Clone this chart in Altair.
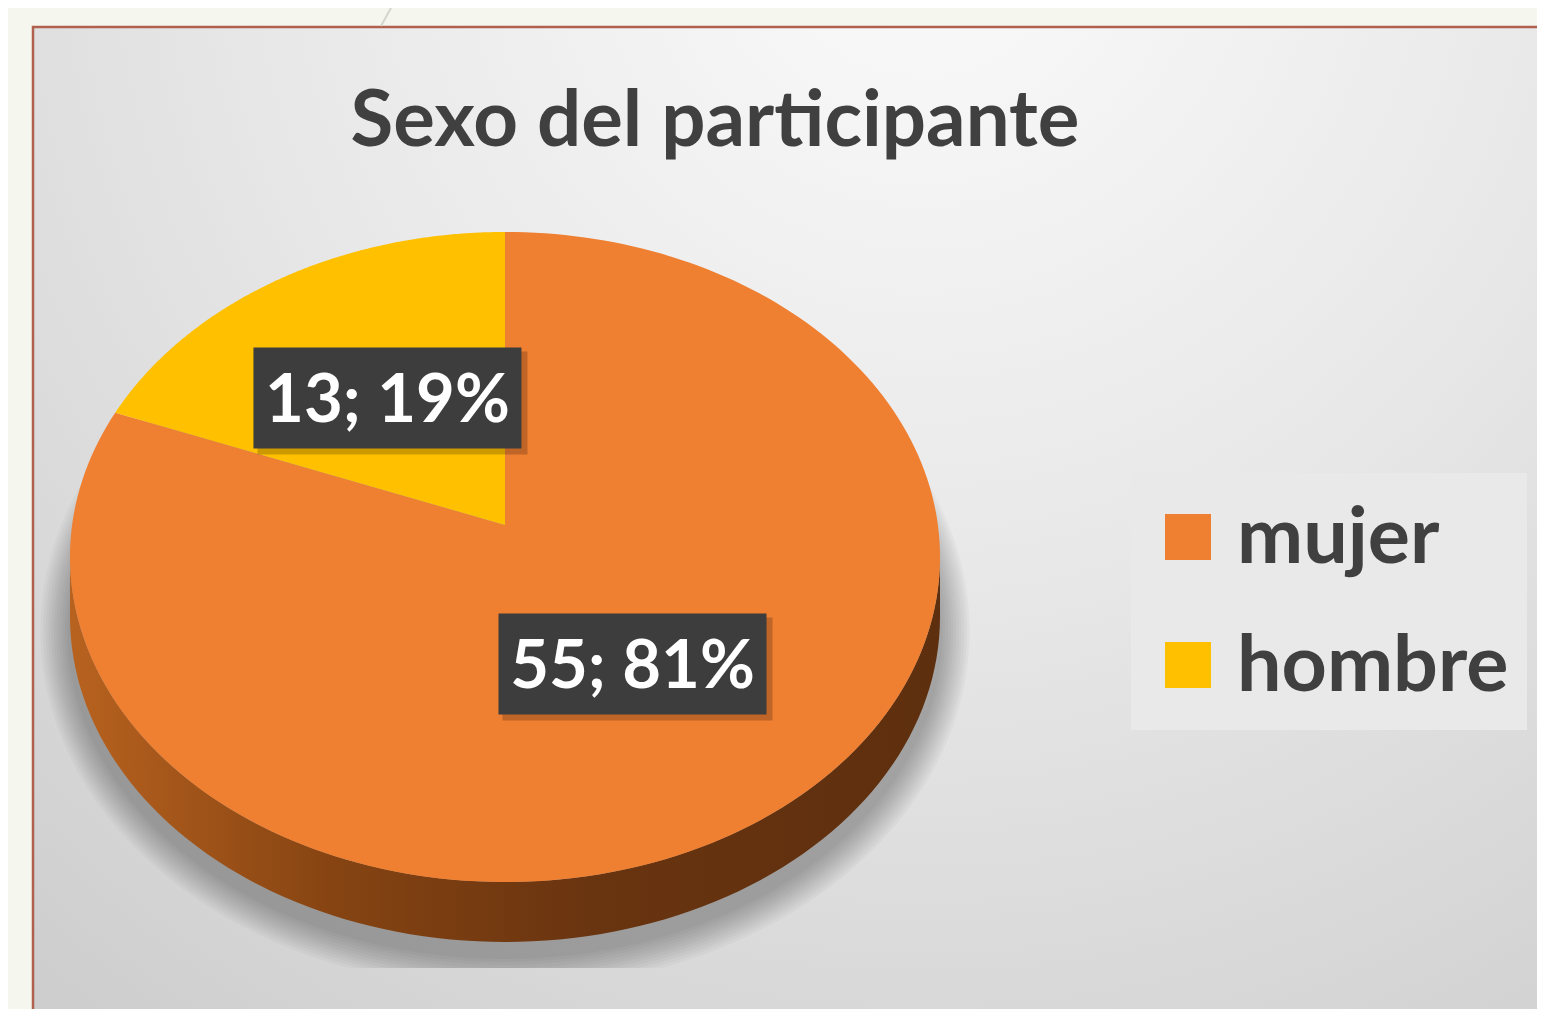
import altair as alt
import pandas as pd

# ---------------- data ----------------
categories = ["mujer", "hombre"]
counts = [55, 13]
slice_colors = ["#ef7f31", "#ffc000"]
title_text = "Sexo del participante"

# ---------------- layout constants ----------------
W, H = 1529, 1001
OX, OY = 8, 8
CX, CY = 505, 557          # centre of the top ellipse outline
RX, RY = 435, 325          # radii of the top ellipse outline
DEPTH = 60                 # thickness of the 3-D pie
# perspective projection of the pie disc (centre of the disc appears at PY0)
PY0 = 525
PS, PT, PC = 432.9, 321.9, -0.0985
LF = 0.5                   # label radius fraction
FONT = "Lato"
TXT = "#404040"
# legend geometry
LEG_X1, LEG_X2, LEG_Y1, LEG_Y2 = 1131, 1527, 473, 730
SYM_X, SYM_Y0, SYM = 1165, 514, 46
ROW = 128
LAB_X = 1237

xs = alt.Scale(domain=[OX, OX + W], nice=False, zero=False)
ys = alt.Scale(domain=[OY + H, OY], nice=False, zero=False)
color_scale = alt.Scale(domain=categories, range=slice_colors)


def X(f):
    return alt.X(f, type="quantitative", scale=xs, axis=None)


def Y(f):
    return alt.Y(f, type="quantitative", scale=ys, axis=None)


def proj_x(u, v):
    return f"({CX} + {PS}*({u})/(1 + {PC}*({v})))"


def proj_y(u, v):
    return f"({PY0} + {PT}*({v})/(1 + {PC}*({v})))"


df = pd.DataFrame({"cat": categories, "count": counts, "idx": list(range(len(categories)))})

base = (
    alt.Chart(df)
    .transform_joinaggregate(total="sum(count)")
    .transform_window(cum="sum(count)", sort=[alt.SortField("idx")], frame=[None, 0])
    .transform_calculate(
        a0="2*PI*(datum.cum - datum.count)/datum.total",
        a1="2*PI*datum.cum/datum.total",
        pct="round(100*datum.count/datum.total)",
    )
)

# ---------------- background frame ----------------
bg_grad = {
    "gradient": "radial",
    "x1": 0.58, "y1": 0.1, "r1": 0.0,
    "x2": 0.58, "y2": 0.1, "r2": 0.95,
    "stops": [
        {"offset": 0.0, "color": "#fbfbfb"},
        {"offset": 0.45, "color": "#e8e8e8"},
        {"offset": 1.0, "color": "#cbcbcb"},
    ],
}
frame = alt.Chart(pd.DataFrame({"a": [0]})).mark_rect(
    fill=bg_grad, stroke="#b0604c", strokeWidth=2.5
).encode(
    x=alt.value(33 - OX), x2=alt.value(W + 30),
    y=alt.value(27 - OY), y2=alt.value(H + 30),
)
deco = alt.Chart(pd.DataFrame({"a": [0]})).mark_rule(color="#d3d6cc", strokeWidth=2).encode(
    x=alt.value(391 - OX), x2=alt.value(381 - OX), y=alt.value(0), y2=alt.value(26 - OY)
)

# ---------------- soft shadow below the pie ----------------
shadow_layers = []
for dr in range(33, 0, -3):
    shadow_layers.append(
        alt.Chart(alt.sequence(0, 361, as_="k"))
        .transform_calculate(
            th="2*PI*datum.k/360",
            px=f"{CX} + {RX + dr * 0.9}*sin(datum.th)",
            py=f"min(968, {CY + DEPTH + 14} - {RY + dr}*cos(datum.th))",
        )
        .mark_line(fill="#000000", fillOpacity=0.028, strokeWidth=0)
        .encode(x=X("px"), y=Y("py"), order=alt.Order("k:Q"))
    )

# ---------------- side wall of the 3-D pie ----------------
side_grad = {
    "gradient": "linear", "x1": 0, "y1": 0, "x2": 1, "y2": 0,
    "stops": [
        {"offset": 0.0, "color": "#b8621f"},
        {"offset": 0.3, "color": "#864412"},
        {"offset": 0.6, "color": "#693410"},
        {"offset": 1.0, "color": "#5e2f0e"},
    ],
}
side = (
    alt.Chart(alt.sequence(0, 202, as_="k"))
    .transform_calculate(
        th="datum.k <= 100 ? PI/2 + PI*datum.k/100 : 3*PI/2 - PI*(datum.k-101)/100",
        px=f"{CX} + {RX}*sin(datum.th)",
        py=f"(datum.k <= 100 ? {CY} : {CY + DEPTH}) - {RY}*cos(datum.th)",
    )
    .mark_line(fill=side_grad, strokeWidth=0)
    .encode(x=X("px"), y=Y("py"), order=alt.Order("k:Q"))
)

# ---------------- top slices ----------------
slices = (
    base.transform_calculate(k="sequence(-1, 202)")
    .transform_flatten(["k"])
    .transform_calculate(
        th="datum.a0 + (datum.a1 - datum.a0)*clamp(datum.k, 0, 200)/200",
        rr="(datum.k < 0 || datum.k > 200) ? 0 : 1",
    )
    .transform_calculate(
        px=proj_x("datum.rr*sin(datum.th)", "-datum.rr*cos(datum.th)"),
        py=proj_y("datum.rr*sin(datum.th)", "-datum.rr*cos(datum.th)"),
    )
    .mark_line(strokeWidth=0)
    .encode(
        x=X("px"),
        y=Y("py"),
        order=alt.Order("k:Q"),
        detail="cat:N",
        fill=alt.Fill("cat:N", scale=color_scale, legend=None),
    )
)

# ---------------- data labels ----------------
lab = base.transform_calculate(
    mid="(datum.a0 + datum.a1)/2",
).transform_calculate(
    lx=proj_x(f"{LF}*sin(datum.mid)", f"-{LF}*cos(datum.mid)"),
    ly=proj_y(f"{LF}*sin(datum.mid)", f"-{LF}*cos(datum.mid)"),
    label="datum.count + '; ' + datum.pct + '%'",
).transform_calculate(
    bx1="datum.lx - 134", bx2="datum.lx + 134",
    by1="datum.ly - 50", by2="datum.ly + 51",
    sx1="datum.lx - 130", sx2="datum.lx + 140",
    sy1="datum.ly - 46", sy2="datum.ly + 57",
    ty="datum.ly + 25",
)
lab_shadow = lab.mark_rect(color="#000000", opacity=0.2).encode(
    x=X("sx1"), x2="sx2", y=Y("sy1"), y2="sy2"
)
lab_box = lab.mark_rect(color="#3d3d3d").encode(
    x=X("bx1"), x2="bx2", y=Y("by1"), y2="by2"
)
lab_text = lab.mark_text(
    font=FONT, fontSize=67, fontWeight="bold", color="#ffffff",
    align="center", baseline="alphabetic",
).encode(x=X("lx"), y=Y("ty"), text="label:N")

# ---------------- legend (drawn from the categories through the colour scale) ----------------
legend_box = alt.Chart(pd.DataFrame({"a": [0]})).mark_rect(color="#e9e9e9").encode(
    x=alt.value(LEG_X1 - OX), x2=alt.value(LEG_X2 - OX),
    y=alt.value(LEG_Y1 - OY), y2=alt.value(LEG_Y2 - OY),
)
leg = alt.Chart(df).transform_calculate(
    sx1=f"{SYM_X}", sx2=f"{SYM_X + SYM}",
    sy1=f"{SYM_Y0} + datum.idx*{ROW}", sy2=f"{SYM_Y0 + SYM} + datum.idx*{ROW}",
    tx=f"{LAB_X}", ty=f"{SYM_Y0 + SYM // 2 + 26} + datum.idx*{ROW}",
)
legend_sym = leg.mark_rect().encode(
    x=X("sx1"), x2="sx2", y=Y("sy1"), y2="sy2",
    fill=alt.Fill("cat:N", scale=color_scale, legend=None),
)
legend_txt = leg.mark_text(
    font=FONT, fontSize=79, fontWeight="bold", color=TXT,
    align="left", baseline="alphabetic",
).encode(x=X("tx"), y=Y("ty"), text="cat:N")

# ---------------- title ----------------
title = alt.Chart(pd.DataFrame({"t": [title_text]})).mark_text(
    font=FONT, fontSize=78, fontWeight="bold", color=TXT,
    align="center", baseline="alphabetic",
).encode(x=alt.value(715 - OX), y=alt.value(146 - OY), text="t:N")

chart = (
    alt.layer(frame, deco, *shadow_layers, side, slices, lab_shadow, lab_box, lab_text,
              legend_box, legend_sym, legend_txt, title)
    .properties(width=W, height=H, padding=0, autosize=alt.AutoSizeParams(type="none"),
                background="#f5f7ee")
    .configure_view(stroke=None)
)

chart.save("out.html", embed_options={"renderer": "svg", "actions": False})
